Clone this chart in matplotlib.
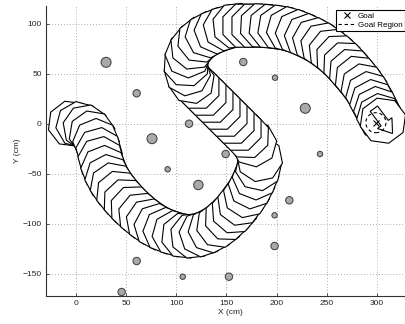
import numpy as np
import matplotlib.pyplot as plt
from matplotlib.patches import Polygon, Circle
from matplotlib.lines import Line2D

plt.rcParams['font.family'] = ['Liberation Sans', 'DejaVu Sans']

# robot footprint centres along the planned path (cm)
path_x = [-5, 3, 10, 16, 20, 23, 25, 28, 32, 37, 43, 50, 57, 65, 73, 81, 90, 99,
          108, 117, 126, 135, 143, 151, 158, 164, 170, 175, 179, 182, 183,
          177, 170, 163, 156, 149, 142, 135, 128, 121, 115,
          111, 110, 112, 117, 124, 132, 141, 150, 159, 168, 177, 186, 195, 204,
          213, 222, 231, 239, 247, 255, 262, 269, 275, 281, 287, 292, 296, 300,
          303, 306]
path_y = [0, -1, -4, -10, -18, -27, -36, -45, -54, -62, -70, -78, -85, -92, -98,
          -103, -107, -110, -112, -112, -110, -106, -101, -94, -87, -79, -71, -62,
          -53, -44, -35,
          -20, -12, -5, 2, 9, 16, 23, 30, 37, 43,
          51, 60, 69, 77, 84, 89, 93, 96, 98, 98, 98, 98, 97, 96,
          94, 91, 87, 83, 78, 72, 66, 59, 52, 45, 37, 29, 21, 14,
          7, 3]

# obstacles (centre x, centre y, radius) in cm
obs_x = [30, 60.5, 75.8, 112.7, 166.8, 198.4, 228.6, 243.3, 149.2, 91.4, 122,
         60.5, 106.4, 45.5, 212.7, 198, 198, 152.5]
obs_y = [61.4, 30.4, -15, 0, 61.7, 46, 15.4, -30.3, -30.3, -45.6, -61.3,
         -137.3, -153, -168.3, -76.6, -91.6, -122.3, -153]
obs_r = [5, 3.7, 5, 3.7, 3.7, 2.7, 5, 2.7, 3.7, 2.7, 4.7,
         3.7, 2.7, 3.7, 3.7, 2.7, 3.7, 3.7]

goal_x, goal_y = 299, 1
goal_r = 10

xticks = [0, 50, 100, 150, 200, 250, 300]
yticks = [-150, -100, -50, 0, 50, 100]

robot_apothem = 21.5
# heading arrow in the robot frame (x forward)
arrow_u = [-15, 3, 3, 16, 3, 3, -15]
arrow_v = [-4.5, -4.5, -9, 0, 9, 4.5, 4.5]

fig = plt.figure(figsize=(4.06, 3.24), dpi=100)
ax = fig.add_axes([46/406, 28.3/324, 368/406, 289.7/324])
ax.set_xlim(-29.9, 337)
ax.set_ylim(-172, 117.7)

px = np.array(path_x, dtype=float)
py = np.array(path_y, dtype=float)
n = len(px)
R = robot_apothem / np.cos(np.pi/8)
k = np.arange(8)
for i in range(n):
    a = max(i-1, 0)
    b = min(i+1, n-1)
    h = np.arctan2(py[b]-py[a], px[b]-px[a])
    ang = h + np.pi/8 + k*np.pi/4
    verts = np.column_stack([px[i] + R*np.cos(ang), py[i] + R*np.sin(ang)])
    ax.add_patch(Polygon(verts, closed=True, fc='white', ec='black', lw=0.8,
                         zorder=3, clip_on=False))

# arrow of the last footprint
h = np.arctan2(py[-1]-py[-2], px[-1]-px[-2])
u = np.array(arrow_u, dtype=float)
v = np.array(arrow_v, dtype=float)
ax_arrow = px[-1] + u*np.cos(h) - v*np.sin(h)
ay_arrow = py[-1] + u*np.sin(h) + v*np.cos(h)
ax.add_patch(Polygon(np.column_stack([ax_arrow, ay_arrow]), closed=True,
                     fc='none', ec='black', lw=0.8, zorder=4))

for x, y, r in zip(obs_x, obs_y, obs_r):
    ax.add_patch(Circle((x, y), r, fc='#a9a9a9', ec='#3a3a3a', lw=0.7, zorder=2,
                        clip_on=False))

# goal
ax.plot([goal_x], [goal_y], 'kx', ms=5, mew=0.8, zorder=5)
ax.add_patch(Circle((goal_x, goal_y), goal_r, fc='none', ec='black', lw=0.8,
                    ls=(0, (3, 2.5)), zorder=5))

ax.set_xticks(xticks)
ax.set_yticks(yticks)
ax.grid(True, color='#909090', ls=(0, (1, 2.5)), lw=0.6)
ax.set_axisbelow(True)
ax.spines['top'].set_visible(False)
ax.spines['right'].set_visible(False)
ax.spines['left'].set_color('#333333')
ax.spines['bottom'].set_color('#333333')
ax.tick_params(direction='in', length=2.5, width=0.6, labelsize=6, pad=3,
               colors='#333333', labelcolor='#222222')
ax.set_xlabel('X (cm)', fontsize=6, labelpad=1.5, color='#222222')
ax.set_ylabel('Y (cm)', fontsize=6, labelpad=1, color='#222222')

handles = [Line2D([], [], color='black', marker='x', ls='none', ms=5, mew=0.8),
           Line2D([], [], color='black', ls=(0, (3, 2.5)), lw=0.8)]
leg = ax.legend(handles, ['Goal', 'Goal Region'], loc='upper left',
                bbox_to_anchor=(336/406, 1 - 10/324), bbox_transform=fig.transFigure,
                borderaxespad=0, fontsize=5.8, fancybox=False, framealpha=1,
                edgecolor='black', handlelength=2.1, handletextpad=0.3,
                borderpad=0.3, labelspacing=0.1)
leg.get_frame().set_linewidth(0.8)
leg.set_zorder(10)

fig.savefig('out.png', dpi=100)
